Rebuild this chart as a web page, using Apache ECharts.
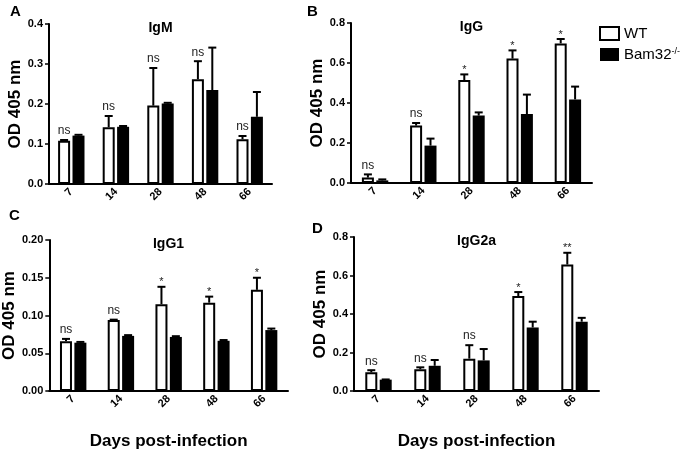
<!DOCTYPE html>
<html><head><meta charset="utf-8">
<script src="https://cdn.jsdelivr.net/npm/echarts@6/dist/echarts.min.js"></script>
<style>html,body{margin:0;padding:0;background:#fff}#c{width:682px;height:451px}</style>
</head><body><div id="c"></div>
<script>
// ---- data ----
const categories = ['7', '14', '28', '48', '66'];

const igmWT = [0.108, 0.142, 0.196, 0.262, 0.112];
const igmWTErr = [0.002, 0.028, 0.094, 0.045, 0.008];
const igmKO = [0.121, 0.143, 0.201, 0.235, 0.168];
const igmKOErr = [0.002, 0.002, 0.002, 0.106, 0.062];
const igmSig = ['ns', 'ns', 'ns', 'ns', 'ns'];

const iggWT = [0.027, 0.287, 0.515, 0.622, 0.698];
const iggWTErr = [0.016, 0.013, 0.028, 0.041, 0.022];
const iggKO = [0.013, 0.187, 0.337, 0.345, 0.418];
const iggKOErr = [0.005, 0.035, 0.016, 0.097, 0.064];
const iggSig = ['ns', 'ns', '*', '*', '*'];

const igg1WT = [0.066, 0.094, 0.115, 0.117, 0.134];
const igg1WTErr = [0.003, 0.0005, 0.023, 0.008, 0.016];
const igg1KO = [0.064, 0.073, 0.0716, 0.0665, 0.0807];
const igg1KOErr = [0.001, 0.001, 0.001, 0.001, 0.002];
const igg1Sig = ['ns', 'ns', '*', '*', '*'];

const igg2aWT = [0.097, 0.113, 0.168, 0.493, 0.657];
const igg2aWTErr = [0.011, 0.010, 0.070, 0.021, 0.061];
const igg2aKO = [0.059, 0.131, 0.159, 0.330, 0.360];
const igg2aKOErr = [0.001, 0.030, 0.059, 0.030, 0.020];
const igg2aSig = ['ns', 'ns', 'ns', '*', '**'];

const panels = [
  {title: 'IgM', letter: 'A', wt: igmWT, wtErr: igmWTErr, ko: igmKO, koErr: igmKOErr, sig: igmSig, max: 0.4, interval: 0.1, dec: 1,
   grid: {left: 49, top: 24, width: 223, height: 160}, letterPos: [10, 12], xName: ''},
  {title: 'IgG', letter: 'B', wt: iggWT, wtErr: iggWTErr, ko: iggKO, koErr: iggKOErr, sig: iggSig, max: 0.8, interval: 0.2, dec: 1,
   grid: {left: 351, top: 23, width: 241, height: 160}, letterPos: [307, 12], xName: ''},
  {title: 'IgG1', letter: 'C', wt: igg1WT, wtErr: igg1WTErr, ko: igg1KO, koErr: igg1KOErr, sig: igg1Sig, max: 0.2, interval: 0.05, dec: 2,
   grid: {left: 49, top: 240, width: 239, height: 159}, letterPos: [9, 216], xName: 'Days post-infection'},
  {title: 'IgG2a', letter: 'D', wt: igg2aWT, wtErr: igg2aWTErr, ko: igg2aKO, koErr: igg2aKOErr, sig: igg2aSig, max: 0.8, interval: 0.2, dec: 1,
   grid: {left: 354, top: 237, width: 245, height: 162}, letterPos: [312, 229], xName: 'Days post-infection'}
];

const FONT = 'Liberation Sans, Arial, sans-serif';
const BW = 12;
const OFF = 7.2;

const grids = [], xAxes = [], yAxes = [], series = [], graphics = [];

panels.forEach((p, k) => {
  grids.push(Object.assign({containLabel: false}, p.grid));
  xAxes.push({
    type: 'category', gridIndex: k, data: categories,
    axisLine: {lineStyle: {color: '#000', width: 2}},
    axisTick: {alignWithLabel: true, length: 4, lineStyle: {color: '#000', width: 1.5}},
    axisLabel: {rotate: 45, color: '#000', fontWeight: 'bold', fontSize: 11, fontFamily: FONT, margin: 6},
    name: p.xName, nameLocation: 'middle', nameGap: 42,
    nameTextStyle: {color: '#000', fontWeight: 'bold', fontSize: 17, fontFamily: FONT}
  });
  yAxes.push({
    type: 'value', gridIndex: k, min: 0, max: p.max, interval: p.interval,
    axisLine: {show: true, lineStyle: {color: '#000', width: 2}},
    axisTick: {show: true, length: 4, lineStyle: {color: '#000', width: 1.5}},
    splitLine: {show: false},
    axisLabel: {color: '#000', fontWeight: 'bold', fontSize: 11, fontFamily: FONT, margin: 6,
      formatter: v => v.toFixed(p.dec)},
    name: 'OD 405 nm', nameLocation: 'middle', nameGap: 25,
    nameTextStyle: {color: '#000', fontWeight: 'bold', fontSize: 17, fontFamily: FONT}
  });
  series.push({
    name: 'WT', type: 'bar', xAxisIndex: k, yAxisIndex: k, data: p.wt, barWidth: BW, barGap: '20%',
    itemStyle: {color: '#fff', borderColor: '#000', borderWidth: 2}, silent: true
  });
  series.push({
    name: 'Bam32', type: 'bar', xAxisIndex: k, yAxisIndex: k, data: p.ko, barWidth: BW, barGap: '20%',
    itemStyle: {color: '#000', borderColor: '#000', borderWidth: 0}, silent: true
  });
  const errData = [];
  categories.forEach((c, i) => {
    errData.push([i, p.wt[i], p.wtErr[i], -1]);
    errData.push([i, p.ko[i], p.koErr[i], 1]);
  });
  series.push({
    type: 'custom', xAxisIndex: k, yAxisIndex: k, data: errData, z: 5, silent: true,
    encode: {x: 0, y: 1},
    renderItem: function (params, api) {
      const i = api.value(0), v = api.value(1), e = api.value(2), side = api.value(3);
      const b = api.coord([i, v]);
      const t = api.coord([i, v + e]);
      const x = b[0] + side * OFF;
      const children = [
        {type: 'line', shape: {x1: x, y1: b[1], x2: x, y2: t[1]}, style: {stroke: '#000', lineWidth: 2}},
        {type: 'line', shape: {x1: x - 4, y1: t[1], x2: x + 4, y2: t[1]}, style: {stroke: '#000', lineWidth: 2}}
      ];
      if (side < 0) {
        const s = p.sig[i];
        const isStar = s.indexOf('*') === 0;
        children.push({
          type: 'text', x: x, y: t[1] - (isStar ? -1 : 3),
          style: {text: s, fill: '#222', font: (isStar ? '11px ' : '12px ') + FONT,
            textAlign: 'center', align: 'center', textVerticalAlign: 'bottom', verticalAlign: 'bottom'}
        });
      }
      return {type: 'group', children: children};
    }
  });
  graphics.push({
    type: 'text', x: p.grid.left + p.grid.width / 2, y: p.grid.top + 4,
    style: {text: p.title, fill: '#000', font: 'bold 14px ' + FONT, textAlign: 'center', align: 'center',
      textVerticalAlign: 'middle', verticalAlign: 'middle'}
  });
  graphics.push({
    type: 'text', x: p.letterPos[0], y: p.letterPos[1],
    style: {text: p.letter, fill: '#000', font: 'bold 15px ' + FONT, textAlign: 'left', align: 'left',
      textVerticalAlign: 'middle', verticalAlign: 'middle'}
  });
});

const chart = echarts.init(document.getElementById('c'), null, {renderer: 'canvas'});
chart.setOption({
  animation: false,
  backgroundColor: '#fff',
  grid: grids, xAxis: xAxes, yAxis: yAxes, series: series,
  graphic: graphics,
  legend: {
    data: ['WT', 'Bam32'], orient: 'vertical', left: 594, top: 21,
    itemWidth: 19, itemHeight: 13, itemGap: 6, selectedMode: false,
    icon: 'rect',
    formatter: name => name === 'Bam32' ? '{a|Bam32}{s|-/-}' : '{a|WT}',
    textStyle: {color: '#000', fontFamily: FONT,
      rich: {a: {fontSize: 15, fontFamily: FONT, color: '#000'},
             s: {fontSize: 9, fontFamily: FONT, color: '#000', verticalAlign: 'top', padding: [0, 0, 6, 0]}}}
  }
});
</script>
</body></html>
